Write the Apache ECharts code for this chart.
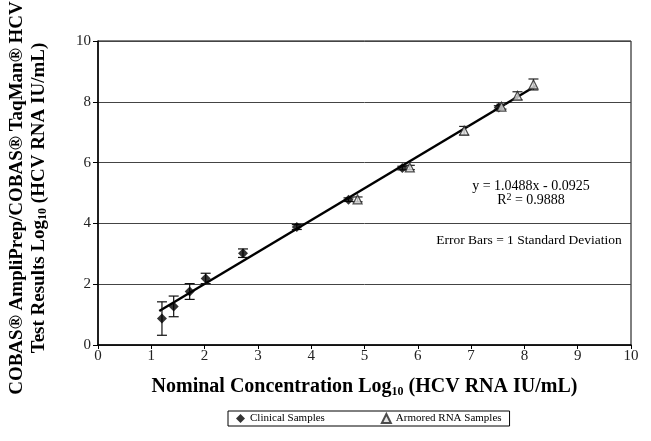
<!DOCTYPE html>
<html>
<head>
<meta charset="utf-8">
<script src="https://cdn.jsdelivr.net/npm/echarts@6/dist/echarts.min.js"></script>
<style>
  html, body { margin: 0; padding: 0; background: #fff; }
  #main { width: 651px; height: 441px; }
</style>
</head>
<body>
<div id="main"></div>
<script>
const clinical = [
    [1.20, 0.87, 0.55],
    [1.42, 1.27, 0.34],
    [1.72, 1.76, 0.26],
    [2.02, 2.19, 0.17],
    [2.72, 3.02, 0.14],
    [3.73, 3.88, 0.08],
    [4.70, 4.78, 0.06],
    [5.71, 5.82, 0.06],
    [7.52, 7.81, 0.06]
];
const armored = [
    [4.87, 4.79, 0.08],
    [5.85, 5.84, 0.07],
    [6.87, 7.05, 0.14],
    [7.57, 7.84, 0.08],
    [7.87, 8.20, 0.13],
    [8.17, 8.57, 0.18]
];
const trendLine = [[1.15, 1.12], [8.21, 8.52]];
const xTicks = [0, 1, 2, 3, 4, 5, 6, 7, 8, 9, 10];
const yTicks = [0, 2, 4, 6, 8, 10];

const serif = '"Liberation Serif", "DejaVu Serif", serif';

let myChart = echarts.init(document.getElementById('main'));

function errorBars(color) {
    return function (params, api) {
        let x = api.value(0), y = api.value(1), sd = api.value(2);
        let top = api.coord([x, y + sd]);
        let bot = api.coord([x, y - sd]);
        let w = 5;
        let st = {stroke: color, lineWidth: 1.2};
        return {
            type: 'group',
            children: [
                {type: 'line', shape: {x1: top[0], y1: top[1], x2: bot[0], y2: bot[1]}, style: st},
                {type: 'line', shape: {x1: top[0] - w, y1: top[1], x2: top[0] + w, y2: top[1]}, style: st},
                {type: 'line', shape: {x1: bot[0] - w, y1: bot[1], x2: bot[0] + w, y2: bot[1]}, style: st}
            ]
        };
    };
}

let option = {
    backgroundColor: '#fff',
    animation: false,
    textStyle: {fontFamily: serif},
    grid: {
        left: 98, right: 20, top: 41, bottom: 96,
        outerBoundsMode: 'none',
        containLabel: false,
        show: true, borderColor: '#000', borderWidth: 1
    },
    legend: {
        bottom: 15,
        left: 228,
        itemGap: 56,
        itemWidth: 9,
        itemHeight: 9,
        borderColor: '#000',
        borderWidth: 1,
        padding: [2, 8, 2, 8],
        textStyle: {fontFamily: serif, fontSize: 11, color: '#000'},
        data: [
            {name: 'Clinical Samples', icon: 'diamond'},
            {name: 'Armored RNA Samples', icon: 'triangle'}
        ]
    },
    xAxis: {
        type: 'value',
        min: xTicks[0], max: xTicks[xTicks.length - 1], interval: 1,
        name: '{b|Nominal Concentration Log}{s|10}{b| (HCV RNA IU/mL)}',
        nameLocation: 'middle',
        nameGap: 31,
        nameTextStyle: {
            rich: {
                b: {fontFamily: serif, fontSize: 20, fontWeight: 'bold', color: '#000'},
                s: {fontFamily: serif, fontSize: 12, fontWeight: 'bold', color: '#000', padding: [10, 0, 0, 0]}
            }
        },
        axisLine: {lineStyle: {color: '#000', width: 1.5}},
        axisTick: {show: true, length: 4, lineStyle: {color: '#000'}},
        axisLabel: {fontFamily: serif, fontSize: 15, color: '#222', margin: 4},
        splitLine: {show: false}
    },
    yAxis: {
        type: 'value',
        min: yTicks[0], max: yTicks[yTicks.length - 1], interval: 2,
        name: '{b|COBAS® AmpliPrep/COBAS® TaqMan® HCV}\n{b|Test Results Log}{s|10}{b| (HCV RNA IU/mL)}',
        nameLocation: 'middle',
        nameRotate: 90,
        nameGap: 48,
        nameTextStyle: {
            lineHeight: 22,
            padding: [0, 10, 0, 0],
            rich: {
                b: {fontFamily: serif, fontSize: 19, fontWeight: 'bold', color: '#000', lineHeight: 22},
                s: {fontFamily: serif, fontSize: 12, fontWeight: 'bold', color: '#000', padding: [8, 0, 0, 0], lineHeight: 22}
            }
        },
        axisLine: {show: true, lineStyle: {color: '#000', width: 1.5}},
        axisTick: {show: true, length: 5, lineStyle: {color: '#000'}},
        axisLabel: {fontFamily: serif, fontSize: 15, color: '#222', margin: 7},
        splitLine: {show: true, lineStyle: {color: '#444', width: 1}}
    },
    graphic: [
        {type: 'text', x: 531, y: 186, style: {text: 'y = 1.0488x - 0.0925', font: '14px ' + serif, fill: '#000', align: 'center', verticalAlign: 'middle'}},
        {type: 'text', x: 531, y: 200, style: {text: '{a|R}{s|2}{a| = 0.9888}', font: '14px ' + serif, fill: '#000', align: 'center', verticalAlign: 'middle',
            rich: {a: {fontFamily: serif, fontSize: 14, fill: '#000'}, s: {fontFamily: serif, fontSize: 10, fill: '#000', padding: [0, 0, 6, 0]}}}},
        {type: 'text', x: 529, y: 240, style: {text: 'Error Bars = 1 Standard Deviation', font: '13.5px ' + serif, fill: '#000', align: 'center', verticalAlign: 'middle'}}
    ],
    series: [
        {
            name: 'trend',
            type: 'line',
            data: trendLine,
            showSymbol: false,
            lineStyle: {color: '#000', width: 2.5},
            z: 2
        },
        {
            name: 'clinicalErr',
            type: 'custom',
            renderItem: errorBars('#111'),
            data: clinical,
            z: 3
        },
        {
            name: 'armoredErr',
            type: 'custom',
            renderItem: errorBars('#222'),
            data: armored,
            z: 3
        },
        {
            name: 'Clinical Samples',
            type: 'scatter',
            symbol: 'diamond',
            symbolSize: 10,
            data: clinical.map(d => [d[0], d[1]]),
            itemStyle: {color: '#000'},
            z: 4
        },
        {
            name: 'Armored RNA Samples',
            type: 'scatter',
            symbol: 'triangle',
            symbolSize: 9,
            data: armored.map(d => [d[0], d[1]]),
            itemStyle: {color: '#ddd', borderColor: '#222', borderWidth: 1.2},
            z: 4
        }
    ]
};
myChart.setOption(option);
</script>
</body>
</html>
